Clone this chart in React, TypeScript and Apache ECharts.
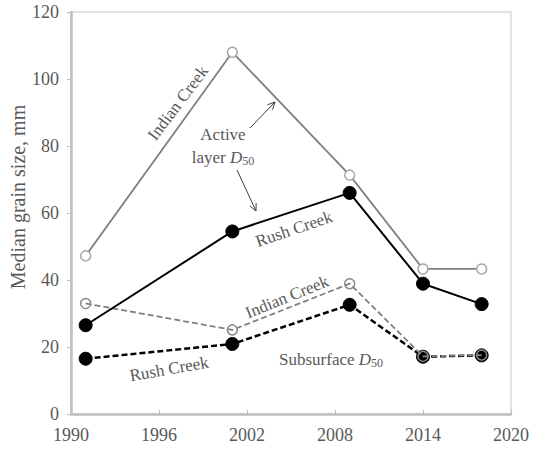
import React, { useEffect, useRef } from "react";
import * as echarts from "echarts";

const years = [1991, 2001, 2009, 2014, 2018];
const indianActive = [47.2, 108, 71.3, 43.3, 43.3];
const rushActive = [26.5, 54.5, 66, 38.9, 32.8];
const indianSub = [33, 25.1, 38.9, 17.2, 17.6];
const rushSub = [16.5, 20.9, 32.6, 17.1, 17.5];

const FONT = "'Liberation Serif', 'DejaVu Serif', serif";
const TXT = "#595959";

function pairs(vals: number[]) {
  return years.map((y, i) => [y, vals[i]]);
}

function arrow(x1: number, y1: number, x2: number, y2: number) {
  const ang = Math.atan2(y2 - y1, x2 - x1);
  const L = 8;
  const a1 = ang + Math.PI - 0.45;
  const a2 = ang + Math.PI + 0.45;
  return [
    { type: "line", shape: { x1, y1, x2, y2 }, style: { stroke: "#404040", lineWidth: 1 } },
    {
      type: "polyline",
      shape: {
        points: [
          [x2 + L * Math.cos(a1), y2 + L * Math.sin(a1)],
          [x2, y2],
          [x2 + L * Math.cos(a2), y2 + L * Math.sin(a2)],
        ],
      },
      style: { stroke: "#404040", lineWidth: 1, fill: null },
    },
  ];
}

function label(text: string, x: number, y: number, deg: number, size = 17) {
  return {
    type: "text",
    x,
    y,
    rotation: (deg * Math.PI) / 180,
    style: {
      text,
      fill: TXT,
      fontFamily: FONT,
      fontSize: size,
      align: "center",
      verticalAlign: "middle",
    },
  };
}

export default function App() {
  const ref = useRef<HTMLDivElement>(null);
  useEffect(() => {
    document.body.style.margin = "0";
    const chart = echarts.init(ref.current!, null, { renderer: "svg" });
    const d50Rich = {
      n: { fontFamily: FONT, fontSize: 17, fill: TXT, color: TXT },
      d: { fontFamily: FONT, fontSize: 17, fontStyle: "italic", fill: TXT, color: TXT },
      s: { fontFamily: FONT, fontSize: 12, fill: TXT, color: TXT, padding: [8, 0, 0, 0] },
    };
    chart.setOption({
      animation: false,
      grid: {
        left: 71,
        top: 12,
        right: 28,
        bottom: 36,
        show: true,
        borderColor: "#d9d9d9",
        borderWidth: 1.5,
        containLabel: false,
        outerBoundsMode: "none",
      },
      xAxis: {
        type: "value",
        min: 1990,
        max: 2020,
        interval: 6,
        axisLine: { show: true, onZero: false, lineStyle: { color: "#bfbfbf", width: 2.5 } },
        axisTick: { show: true, inside: true, length: 4, lineStyle: { color: "#bfbfbf", width: 1 } },
        axisLabel: { color: TXT, fontFamily: FONT, fontSize: 18, margin: 12, formatter: (v: number) => String(v) },
        splitLine: { show: false },
      },
      yAxis: {
        type: "value",
        min: 0,
        max: 120,
        interval: 20,
        axisLine: { show: true, lineStyle: { color: "#bfbfbf", width: 2.5 } },
        axisTick: { show: true, inside: false, length: 4, lineStyle: { color: "#bfbfbf", width: 1 } },
        axisLabel: { color: TXT, fontFamily: FONT, fontSize: 18, margin: 12 },
        splitLine: { show: false },
      },
      series: [
        {
          type: "line",
          data: pairs(rushSub),
          symbol: "circle",
          symbolSize: 13,
          lineStyle: { color: "#000", width: 2.5, type: [6, 3] },
          itemStyle: { color: "#000", borderColor: "#000" },
          z: 2,
        },
        {
          type: "line",
          data: pairs(indianSub),
          symbol: "circle",
          symbolSize: 10,
          lineStyle: { color: "#808080", width: 1.8, type: [6, 3] },
          itemStyle: { color: "rgba(255,255,255,0)", borderColor: "#8a8a8a", borderWidth: 1.5 },
          z: 3,
        },
        {
          type: "line",
          data: pairs(rushActive),
          symbol: "circle",
          symbolSize: 13,
          lineStyle: { color: "#000", width: 2 },
          itemStyle: { color: "#000", borderColor: "#000" },
          z: 4,
        },
        {
          type: "line",
          data: pairs(indianActive),
          symbol: "circle",
          symbolSize: 10,
          lineStyle: { color: "#808080", width: 1.8 },
          itemStyle: { color: "#fff", borderColor: "#a6a6a6", borderWidth: 1.5 },
          z: 5,
        },
      ],
      graphic: [
        label("Median grain size, mm", 18, 197, 90, 20),
        label("Indian Creek", 178, 103, 53),
        label("Rush Creek", 294, 229, 19),
        label("Indian Creek", 287, 297, 22),
        label("Rush Creek", 169, 369, 10),
        label("Active", 223, 134, 0),
        {
          type: "text",
          x: 223,
          y: 157,
          style: { text: "{n|layer }{d|D}{s|50}", rich: d50Rich, align: "center", verticalAlign: "middle", fill: TXT },
        },
        {
          type: "text",
          x: 331,
          y: 359,
          style: { text: "{n|Subsurface }{d|D}{s|50}", rich: d50Rich, align: "center", verticalAlign: "middle", fill: TXT },
        },
        ...arrow(250, 128, 275, 102),
        ...arrow(237, 170, 256, 211),
      ],
    });
    return () => chart.dispose();
  }, []);
  return <div ref={ref} style={{ width: 539, height: 450 }} />;
}
